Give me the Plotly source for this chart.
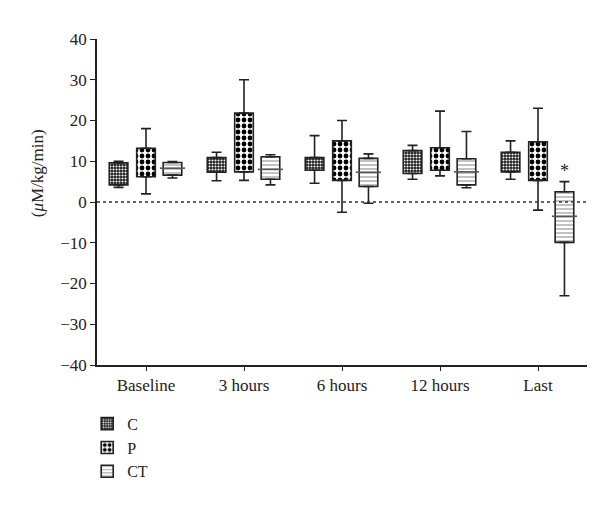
import plotly.graph_objects as go

categories = ["Baseline", "3 hours", "6 hours", "12 hours", "Last"]
groups = ["C", "P", "CT"]
offsets = [-0.28, 0.0, 0.27]

c_upper = [10.0, 12.2, 16.3, 13.9, 15.0]
c_q3 = [9.6, 10.9, 10.9, 12.6, 12.2]
c_q1 = [4.2, 7.3, 7.8, 7.0, 7.4]
c_lower = [3.6, 5.2, 4.6, 5.6, 5.6]

p_upper = [18.0, 30.0, 20.0, 22.3, 23.0]
p_q3 = [13.2, 21.8, 15.0, 13.3, 14.8]
p_q1 = [6.2, 7.4, 5.3, 7.8, 5.3]
p_lower = [2.0, 5.3, -2.5, 6.4, -2.0]

ct_upper = [9.9, 11.6, 11.8, 17.3, 5.0]
ct_q3 = [9.7, 11.1, 10.7, 10.6, 2.5]
ct_q1 = [6.6, 5.6, 3.8, 4.2, -9.9]
ct_lower = [5.9, 4.2, -0.3, 3.5, -23.0]
ct_median = [8.3, 8.0, 7.3, 7.4, -3.5]

y_ticks = [-40, -30, -20, -10, 0, 10, 20, 30, 40]
signif_label = "*"
signif_value = 7.6

FONT = "Liberation Serif"
INK = "#222222"

patterns = [
    dict(shape=".", size=3, solidity=0.4, fgcolor="white", bgcolor="#1a1a1a", fillmode="replace"),
    dict(shape=".", size=6, solidity=0.5, fgcolor="black", bgcolor="white", fillmode="replace"),
    dict(shape="-", size=4, solidity=0.3, fgcolor="#9a9a9a", bgcolor="white", fillmode="replace"),
]

data = [
    (c_lower, c_q1, c_q3, c_upper),
    (p_lower, p_q1, p_q3, p_upper),
    (ct_lower, ct_q1, ct_q3, ct_upper),
]

fig = go.Figure()

for g, (name, off, pat, (lo, q1, q3, up)) in enumerate(zip(groups, offsets, patterns, data)):
    xs = [i + off for i in range(len(categories))]
    fig.add_trace(go.Bar(
        x=xs, y=[b - a for a, b in zip(q1, q3)], base=q1, width=0.19,
        name=name,
        marker=dict(color="white", pattern=pat, line=dict(color=INK, width=1.6)),
        showlegend=True,
    ))
    fig.add_trace(go.Scatter(
        x=xs, y=q3, mode="markers", marker=dict(size=1, color="rgba(0,0,0,0)"),
        error_y=dict(type="data", symmetric=False, array=[u - t for u, t in zip(up, q3)],
                     arrayminus=[0] * len(q3), color=INK, thickness=1.6, width=5),
        showlegend=False, hoverinfo="skip",
    ))
    fig.add_trace(go.Scatter(
        x=xs, y=q1, mode="markers", marker=dict(size=1, color="rgba(0,0,0,0)"),
        error_y=dict(type="data", symmetric=False, array=[0] * len(q1),
                     arrayminus=[b - l for b, l in zip(q1, lo)], color=INK, thickness=1.6, width=5),
        showlegend=False, hoverinfo="skip",
    ))

fig.add_trace(go.Scatter(
    x=[i + offsets[2] for i in range(len(categories))], y=ct_median, mode="markers",
    marker=dict(symbol="line-ew", size=18, line=dict(color="#555555", width=1.6)),
    showlegend=False, hoverinfo="skip",
))

fig.add_shape(type="line", xref="paper", x0=0, x1=1, yref="y", y0=0, y1=0,
              line=dict(color="#333333", width=1.5, dash="dot"), layer="above")

fig.add_annotation(x=len(categories) - 1 + offsets[2], y=signif_value, text=signif_label,
                   showarrow=False, font=dict(family=FONT, size=18, color="#222222"),
                   yanchor="middle")

fig.add_annotation(xref="paper", yref="paper", x=-0.12, y=0.589, text="(<i>μ</i>M/kg/min)",
                   textangle=-90, showarrow=False, font=dict(family=FONT, size=17, color=INK),
                   xanchor="center", yanchor="middle")

fig.update_layout(
    width=600, height=508,
    margin=dict(l=89, r=21, t=31, b=151),
    paper_bgcolor="white", plot_bgcolor="white",
    font=dict(family=FONT, size=16, color=INK),
    barmode="overlay",
    legend=dict(x=-0.02, y=-0.128, xanchor="left", yanchor="top", orientation="v",
                font=dict(family=FONT, size=16, color=INK), bgcolor="rgba(0,0,0,0)",
                tracegroupgap=0, itemwidth=30),
    xaxis=dict(range=[-0.5, 4.5], tickmode="array", tickvals=list(range(len(categories))),
               ticktext=categories, showgrid=False, zeroline=False, showline=True,
               linecolor=INK, linewidth=1.5, ticks="outside", ticklen=4, tickwidth=1.2,
               tickcolor=INK, ticklabelstandoff=0, tickfont=dict(size=17)),
    yaxis=dict(range=[-40, 40], tickmode="array", tickvals=y_ticks, showgrid=False,
               zeroline=False, showline=True, linecolor=INK, linewidth=1.5, ticks="outside",
               ticklen=5, tickwidth=1.2, tickcolor=INK, tickfont=dict(size=17)),
)

fig.write_html("out.html")
